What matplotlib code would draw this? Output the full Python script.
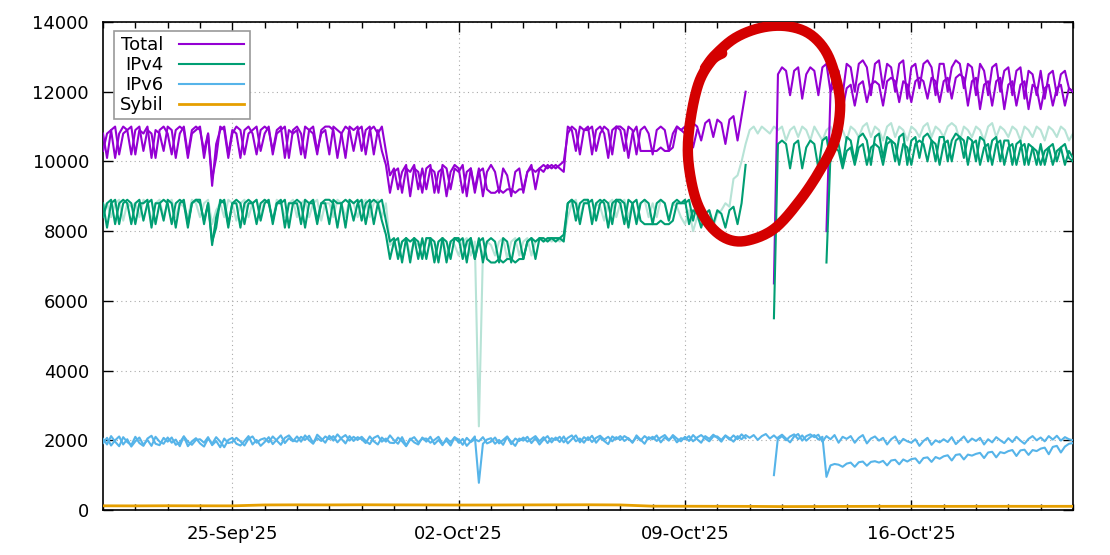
import numpy as np
import matplotlib
matplotlib.use("Agg")
import matplotlib.pyplot as plt
import matplotlib.dates as mdates

N = np.nan

# ---- sampling: 3-hourly points from 21-Sep-2025 00:00 to 21-Oct-2025 00:00 ----
start = np.datetime64("2025-09-21T00:00")
step_hours = 3

# ---- Total (two nodes), values in hundreds, one row per day (8 samples/day) ----
total_node1_h = [
    [103,108,109,101,108,110,109,102],
    [109,110,103,109,108,101,109,110],
    [108,102,109,110,109,101,108,109],
    [110,101,108,93,105,109,110,102],
    [109,108,101,109,110,108,102,109],
    [110,109,103,109,110,101,109,108],
    [109,102,110,109,108,102,109,110],
    [110,109,101,108,110,109,103,109],
    [110,102,109,110,108,110,103,96],
    [98,92,97,99,90,98,97,91],
    [98,99,91,97,98,90,97,99],
    [98,91,97,98,92,98,90,97],
    [99,97,91,98,96,90,97,98],
    [91,97,99,92,98,97,99,98],
    [99,98,97,110,109,103,110,109],
    [110,102,109,110,108,101,109,110],
    [109,103,110,109,102,109,110,108],
    [102,109,110,109,103,108,110,109],
    [110,104,111,110,106,111,112,107],
    [112,111,105,112,113,106,113,120],
    [N,N,N,N,N,N,65,125],
    [127,126,119,126,127,118,125,127],
    [126,119,127,128,120,127,126,119],
    [128,127,120,128,129,127,119,128],
    [129,121,128,127,120,128,129,118],
    [127,128,121,128,129,127,119,128],
    [128,120,127,129,128,121,128,127],
    [119,128,126,119,127,128,120,126],
    [127,119,126,127,118,126,125,119],
    [126,118,125,126,119,125,126,121],
    [120],
]
total_node2_h = [
    [108,101,109,110,102,108,109,110],
    [102,109,108,110,101,109,108,103],
    [110,109,101,108,110,102,109,110],
    [109,103,108,95,101,110,109,101],
    [108,110,109,102,108,109,110,103],
    [108,110,102,108,109,110,101,109],
    [110,108,101,109,110,103,108,109],
    [102,110,109,108,101,110,109,110],
    [103,109,110,102,109,103,99,91],
    [97,98,91,98,97,99,92,98],
    [92,98,97,91,99,98,92,98],
    [97,99,90,98,91,97,98,92],
    [91,91,92,91,92,92,91,92],
    [92,97,98,97,98,99,98,99],
    [98,99,100,108,110,109,102,109],
    [109,110,103,108,110,109,102,110],
    [110,109,101,108,110,103,103,103],
    [103,103,104,103,103,104,110,109],
    [108,110,104,109,N,N,N,N],
    [N,N,N,N,N,N,N,N],
    [N,N,N,N,N,N,N,N],
    [N,N,N,N,N,N,N,N],
    [N,N,N,80,120,122,121,115],
    [121,122,116,122,123,117,122,123],
    [122,116,123,124,123,117,123,122],
    [117,123,124,123,118,124,123,117],
    [123,124,118,124,125,124,116,123],
    [124,115,122,123,116,123,124,115],
    [122,123,116,122,123,115,122,121],
    [115,121,122,116,121,122,116,121],
    [120],
]

# ---- IPv4 (two nodes + faded reference), values in hundreds ----
ipv4_node1_h = [
    [84,88,89,82,88,89,88,82],
    [88,89,83,88,89,82,88,89],
    [88,82,88,89,88,81,88,89],
    [89,82,88,76,84,88,89,82],
    [88,88,81,88,89,88,82,88],
    [89,88,83,88,89,81,88,88],
    [88,82,89,88,88,82,88,89],
    [89,88,81,88,89,88,83,88],
    [89,82,88,89,88,89,83,77],
    [78,72,77,78,71,78,77,72],
    [78,78,71,77,78,71,77,78],
    [78,72,77,78,72,78,71,77],
    [78,77,71,78,77,71,77,78],
    [72,77,78,72,78,77,78,78],
    [78,78,77,88,89,83,88,89],
    [89,82,88,89,88,81,88,89],
    [88,82,89,88,82,88,89,88],
    [82,88,89,88,83,88,89,88],
    [89,82,86,85,81,85,86,82],
    [86,85,81,86,87,82,88,99],
    [N,N,N,N,N,N,55,105],
    [106,105,98,105,106,98,104,106],
    [105,98,106,107,100,106,105,99],
    [107,106,100,107,108,106,99,107],
    [108,101,107,106,100,107,108,99],
    [106,107,101,107,108,106,100,107],
    [107,100,106,108,107,101,107,106],
    [100,107,106,100,106,107,100,106],
    [106,99,105,106,99,105,104,99],
    [105,99,104,105,100,104,105,101],
    [100],
]
ipv4_node2_h = [
    [88,81,88,89,82,88,89,88],
    [82,88,88,89,81,88,88,83],
    [89,88,81,88,89,82,88,89],
    [88,83,88,77,81,89,88,81],
    [88,89,88,82,88,88,89,83],
    [88,89,82,88,88,89,81,88],
    [89,88,81,88,89,83,88,88],
    [82,89,88,88,81,89,88,89],
    [83,88,89,82,88,83,79,72],
    [77,78,71,78,77,78,72,78],
    [72,78,77,71,78,77,72,78],
    [77,78,71,78,72,77,78,72],
    [71,71,72,71,72,72,71,72],
    [72,77,78,77,78,78,77,78],
    [77,78,79,88,89,88,82,88],
    [88,89,83,88,89,88,82,89],
    [89,88,81,88,89,83,82,82],
    [82,82,83,82,82,83,88,88],
    [88,89,83,88,N,N,N,N],
    [N,N,N,N,N,N,N,N],
    [N,N,N,N,N,N,N,N],
    [N,N,N,N,N,N,N,N],
    [N,N,N,71,102,104,103,98],
    [103,104,99,104,105,99,104,105],
    [104,99,105,106,105,99,105,104],
    [99,105,106,105,100,106,105,99],
    [105,106,100,106,107,106,99,105],
    [106,99,104,105,99,105,106,99],
    [104,105,99,104,105,99,104,103],
    [99,103,104,99,103,104,99,103],
    [101],
]
ipv4_ref_h = [
    [87,88,84,88,89,83,88,87],
    [88,84,89,88,83,88,89,84],
    [88,89,84,88,87,84,89,88],
    [84,88,89,82,86,88,84,89],
    [88,83,88,89,84,88,89,84],
    [89,88,83,89,88,84,88,89],
    [84,88,89,84,88,89,83,88],
    [88,84,89,88,84,89,88,84],
    [88,89,84,88,89,84,88,76],
    [77,73,77,78,73,77,76,73],
    [78,77,73,77,78,73,77,76],
    [73,77,78,73,77,24,74,77],
    [76,73,77,78,72,77,78,73],
    [77,78,73,77,78,77,78,77],
    [78,77,78,84,88,89,84,88],
    [89,84,88,87,83,88,89,84],
    [88,89,84,88,83,88,89,84],
    [88,84,89,88,83,88,87,84],
    [82,86,80,84,82,85,86,81],
    [85,86,88,87,95,96,100,105],
    [109,110,108,110,109,108,110,109],
    [110,106,109,110,107,110,109,106],
    [110,108,106,109,110,107,110,109],
    [106,110,109,107,110,111,107,110],
    [109,106,110,111,107,110,109,106],
    [110,109,107,110,111,107,110,109],
    [107,110,111,110,106,110,109,107],
    [110,109,106,110,111,107,110,109],
    [107,110,109,106,110,109,107,110],
    [109,106,110,109,107,110,109,106],
    [108],
]

# ---- IPv6 (two nodes), values in tens ----
ipv6_node1_t = [
    [204,188,212,196,183,209,195,186],
    [210,192,184,205,213,190,186,207],
    [196,208,187,194,211,183,197,206],
    [191,182,205,190,209,196,180,201],
    [207,190,185,198,212,188,201,184],
    [195,209,189,202,214,192,206,197],
    [211,196,214,200,190,216,205,193],
    [213,199,217,204,191,212,198,209],
    [203,192,211,197,188,208,196,214],
    [200,190,209,185,205,194,188,208],
    [196,210,189,201,186,206,194,209],
    [193,204,184,197,211,78,190,202],
    [206,190,201,187,210,196,184,205],
    [199,210,192,206,188,202,212,194],
    [208,195,211,191,203,214,194,209],
    [201,213,193,207,198,189,211,203],
    [212,198,206,193,214,202,190,209],
    [203,214,194,208,199,215,205,197],
    [210,198,215,203,193,212,204,216],
    [207,196,213,202,214,203,217,206],
    [N,N,N,N,N,N,100,208],
    [216,205,194,211,218,199,212,217],
    [209,216,196,212,203,215,193,210],
    [204,212,193,207,215,191,205,211],
    [199,207,188,203,211,190,204,197],
    [193,203,184,198,207,187,200,194],
    [203,195,209,189,200,211,194,205],
    [198,207,188,203,194,209,200,192],
    [206,195,210,199,190,204,212,200],
    [208,197,212,202,213,199,209,203],
    [200],
]
ipv6_node2_t = [
    [192,207,185,200,211,188,203,182],
    [197,208,187,201,184,210,196,190],
    [208,193,202,183,211,196,187,201],
    [203,193,209,186,198,180,205,192],
    [195,207,197,185,204,211,193,202],
    [206,194,211,199,187,207,214,200],
    [196,210,201,213,192,206,198,211],
    [203,212,194,207,215,199,210,201],
    [210,198,189,207,213,196,205,193],
    [192,208,197,183,202,209,194,204],
    [205,193,201,210,190,199,185,208],
    [202,187,207,195,203,197,209,191],
    [196,208,191,201,211,189,205,198],
    [208,196,204,212,197,209,192,206],
    [201,210,194,207,214,197,205,193],
    [209,195,207,213,202,210,197,209],
    [201,212,205,194,209,199,212,203],
    [210,198,208,215,201,211,194,206],
    [203,212,197,208,215,205,197,211],
    [211,201,214,206,196,212,203,215],
    [207,215,201,212,218,205,214,203],
    [212,200,211,217,203,214,199,209],
    [215,202,210,95,128,132,130,124],
    [133,136,124,137,139,127,138,140],
    [136,141,128,142,144,131,145,139],
    [146,148,134,149,151,138,152,147],
    [154,157,142,158,160,145,159,156],
    [161,164,149,165,167,151,166,163],
    [169,172,155,171,173,158,172,169],
    [176,179,160,181,184,165,182,190],
    [192],
]

# ---- Sybil, daily values ----
sybil_daily = [120,118,122,120,119,145,148,146,150,147,145,142,143,146,148,150,
               145,110,108,106,104,98,100,103,105,106,104,105,106,105,106]

legend_labels = ["Total", "IPv4", "IPv6", "Sybil"]
colors = {"Total": "#9400d3", "IPv4": "#009e73", "IPv6": "#56b4e9",
          "Sybil": "#e69f00", "ref": "#b7e3d6"}

# annotation: hand-drawn red loop, (day offset from start, value)
loop_path = [(18.62,12680),(18.93,13053),(19.55,13541),(20.32,13828),(21.10,13885),
             (21.81,13684),(22.33,13197),(22.64,12480),(22.80,11619),(22.64,10615),
             (22.18,9754),(21.56,8893),(20.79,8090),(20.01,7746),(19.39,7746),
             (18.84,8090),(18.40,8750),(18.16,9611),(18.09,10471),(18.22,11475),
             (18.46,12336),(18.84,12910),(19.15,13100)]


def flat(rows, scale):
    return np.array([v for r in rows for v in r], dtype=float) * scale


def times(n, hours):
    return (start + np.arange(n) * np.timedelta64(hours, "h")).astype("datetime64[m]").astype(object)


total1 = flat(total_node1_h, 100)
total2 = flat(total_node2_h, 100)
v4a = flat(ipv4_node1_h, 100)
v4b = flat(ipv4_node2_h, 100)
v4r = flat(ipv4_ref_h, 100)
v6a = flat(ipv6_node1_t, 10)
v6b = flat(ipv6_node2_t, 10)
t = times(len(total1), step_hours)
ts = times(len(sybil_daily), 24)

plt.rcParams["font.family"] = ["DejaVu Sans"]
fig = plt.figure(figsize=(11.1, 5.55), dpi=100)
ax = fig.add_axes([103/1110, 1-510/555, 970/1110, 488/555])

lw = 1.5
ax.plot(t, v4r, color=colors["ref"], lw=lw, zorder=2)
ax.plot(t, total1, color=colors["Total"], lw=lw, zorder=3, label=legend_labels[0])
ax.plot(t, total2, color=colors["Total"], lw=lw, zorder=3)
ax.plot(t, v4a, color=colors["IPv4"], lw=lw, zorder=4, label=legend_labels[1])
ax.plot(t, v4b, color=colors["IPv4"], lw=lw, zorder=4)
ax.plot(t, v6a, color=colors["IPv6"], lw=lw, zorder=5, label=legend_labels[2])
ax.plot(t, v6b, color=colors["IPv6"], lw=lw, zorder=5)
ax.plot(ts, sybil_daily, color=colors["Sybil"], lw=lw+0.5, zorder=6, label=legend_labels[3])

# smooth loop annotation (Catmull-Rom through the hand-drawn path points)
P = np.array(loop_path)
def catmull(P, n=12):
    out = []
    for i in range(len(P) - 1):
        p0 = P[max(i-1, 0)]; p1 = P[i]; p2 = P[i+1]; p3 = P[min(i+2, len(P)-1)]
        for s in np.linspace(0, 1, n, endpoint=False):
            out.append(0.5*((2*p1) + (-p0+p2)*s + (2*p0-5*p1+4*p2-p3)*s**2 + (-p0+3*p1-3*p2+p3)*s**3))
    out.append(P[-1])
    return np.array(out)
C = catmull(P)
cx = (start + (C[:, 0] * 24 * 60).astype(int) * np.timedelta64(1, "m")).astype(object)
ax.plot(cx, C[:, 1], color="#d40000", lw=7.5, solid_capstyle="round",
        solid_joinstyle="round", zorder=10)

ax.set_ylim(0, 14000)
ax.set_xlim(np.datetime64("2025-09-21T00:00").astype(object),
            np.datetime64("2025-10-21T00:00").astype(object))
ax.set_yticks(np.arange(0, 14001, 2000))
ax.xaxis.set_major_locator(mdates.WeekdayLocator(byweekday=mdates.TH))
ax.xaxis.set_minor_locator(mdates.DayLocator())
ax.xaxis.set_major_formatter(mdates.DateFormatter("%d-%b'%y"))

ax.tick_params(which="both", direction="in", top=True, right=True, labelsize=13, colors="black")
ax.tick_params(which="major", length=7, width=1)
ax.tick_params(which="minor", length=4, width=1)
ax.tick_params(axis="x", pad=11)
ax.tick_params(axis="y", pad=10)
ax.grid(True, which="major", color="#aaaaaa", linestyle=(0, (1, 3)), lw=0.8)
for s in ax.spines.values():
    s.set_linewidth(1.2)

# markerfirst=False right-aligns the label texts against the line samples
leg = ax.legend(loc="upper left", bbox_to_anchor=(11/970, (510-31)/488), borderaxespad=0,
                markerfirst=False, fancybox=False, framealpha=1, edgecolor="#999999",
                fontsize=13, handlelength=3.6, handletextpad=0.9, labelspacing=0.1,
                borderpad=0.3)
leg.get_frame().set_linewidth(1.2)

fig.savefig("out.png", dpi=100)
